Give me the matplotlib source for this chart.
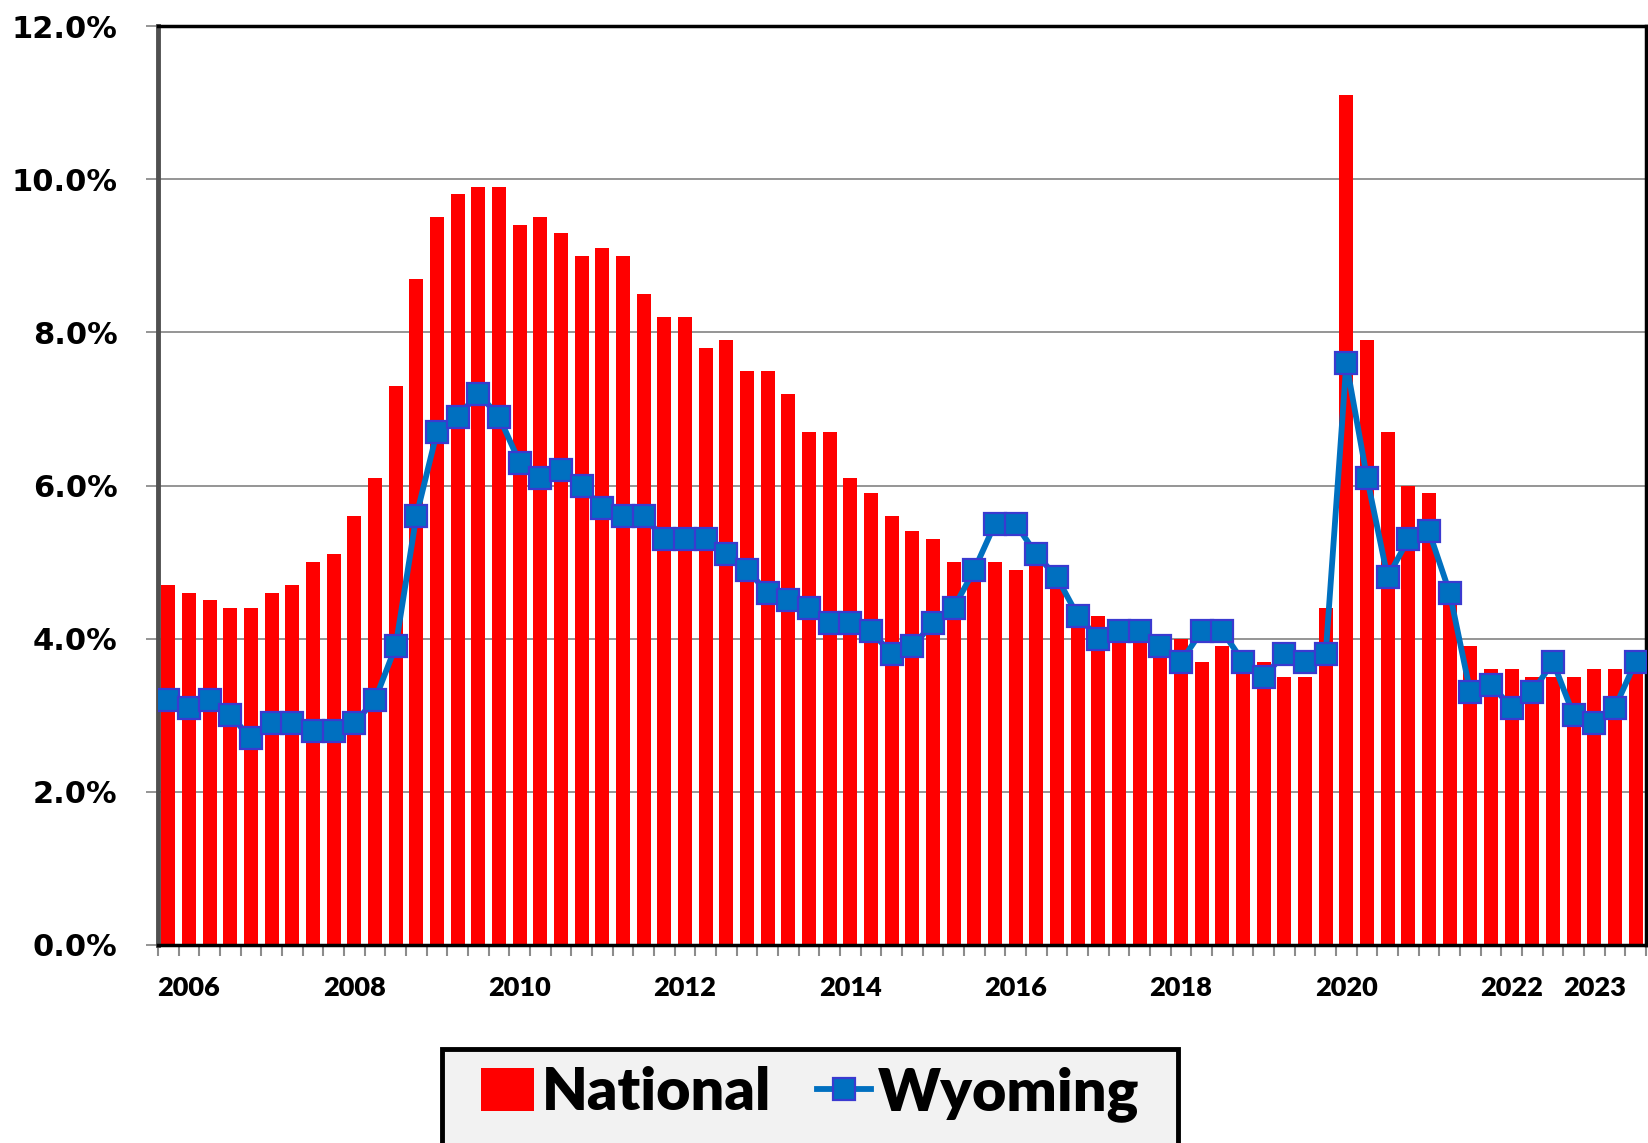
import matplotlib
matplotlib.use("Agg")
import matplotlib.pyplot as plt
import numpy as np
from matplotlib.patches import Patch, Rectangle
from matplotlib.lines import Line2D

# Quarterly data, 2006 Q1 .. 2023 Q4
years = list(range(2006, 2024))
quarters = [f"{y} Q{q}" for y in years for q in range(1, 5)]

national = [4.7, 4.6, 4.5, 4.4, 4.4, 4.6, 4.7, 5.0, 5.1, 5.6, 6.1, 7.3,
            8.7, 9.5, 9.8, 9.9, 9.9, 9.4, 9.5, 9.3, 9.0, 9.1, 9.0, 8.5,
            8.2, 8.2, 7.8, 7.9, 7.5, 7.5, 7.2, 6.7, 6.7, 6.1, 5.9, 5.6,
            5.4, 5.3, 5.0, 5.0, 5.0, 4.9, 5.0, 4.7, 4.4, 4.3, 4.2, 4.1,
            4.0, 4.0, 3.7, 3.9, 3.8, 3.7, 3.5, 3.5, 4.4, 11.1, 7.9, 6.7,
            6.0, 5.9, 4.7, 3.9, 3.6, 3.6, 3.5, 3.5, 3.5, 3.6, 3.6, 3.7]

wyoming = [3.2, 3.1, 3.2, 3.0, 2.7, 2.9, 2.9, 2.8, 2.8, 2.9, 3.2, 3.9,
           5.6, 6.7, 6.9, 7.2, 6.9, 6.3, 6.1, 6.2, 6.0, 5.7, 5.6, 5.6,
           5.3, 5.3, 5.3, 5.1, 4.9, 4.6, 4.5, 4.4, 4.2, 4.2, 4.1, 3.8,
           3.9, 4.2, 4.4, 4.9, 5.5, 5.5, 5.1, 4.8, 4.3, 4.0, 4.1, 4.1,
           3.9, 3.7, 4.1, 4.1, 3.7, 3.5, 3.8, 3.7, 3.8, 7.6, 6.1, 4.8,
           5.3, 5.4, 4.6, 3.3, 3.4, 3.1, 3.3, 3.7, 3.0, 2.9, 3.1, 3.7]

# labelled quarters on the x axis
label_quarters = ["2006 Q2", "2008 Q2", "2010 Q2", "2012 Q2", "2014 Q2",
                  "2016 Q2", "2018 Q2", "2020 Q2", "2022 Q2", "2023 Q2"]
label_texts = ["2006", "2008", "2010", "2012", "2014", "2016", "2018",
               "2020", "2022", "2023"]
y_ticks = [0, 2, 4, 6, 8, 10, 12]

x = np.arange(len(quarters))

W, H = 1649, 1143
fig = plt.figure(figsize=(W / 100, H / 100), dpi=100)
ax = fig.add_axes([158/W, 1 - 945/H, (1646-158)/W, (945-26)/H])

ax.bar(x, national, width=0.68, color="#FF0000", zorder=2)
ax.plot(x, wyoming, color="#0070C0", lw=4.2, marker="s", markersize=15.5,
        markerfacecolor="#0070C0", markeredgecolor="#3A3AD0",
        markeredgewidth=1.6, zorder=3)

ax.set_xlim(-0.5, len(quarters) - 0.5)
ax.set_ylim(0, 12)
ax.set_axisbelow(True)
ax.yaxis.grid(True, color="#8c8c8c", lw=1.3)
ax.set_yticks(y_ticks)
ax.set_yticklabels([f"{v:.1f}%" for v in y_ticks], fontsize=22,
                   fontweight="bold", family="DejaVu Sans")
ax.tick_params(axis="y", length=9, width=1.3, color="#8c8c8c", pad=20)

pos = [quarters.index(q) for q in label_quarters]
ax.set_xticks(pos)
ax.set_xticklabels(label_texts, fontsize=19.5, fontweight="heavy",
                   family=["Lato", "DejaVu Sans"])
ax.tick_params(axis="x", length=0, pad=22)
ax.set_xticks(np.arange(-0.5, len(quarters), 1.0), minor=True)
ax.tick_params(axis="x", which="minor", length=8, width=1.5, color="#8c8c8c")

ax.spines["left"].set_color("#505050")
ax.spines["left"].set_linewidth(3.5)
for s in ["top", "right", "bottom"]:
    ax.spines[s].set_color("black")
    ax.spines[s].set_linewidth(2.5)

# legend box
box = Rectangle((442/W, -0.02), (1178-442)/W, (H-1049)/H + 0.02,
                transform=fig.transFigure, facecolor="#f2f2f2",
                edgecolor="black", linewidth=3.5, zorder=1)
fig.add_artist(box)

handles = [Patch(facecolor="#FF0000", edgecolor="none"),
           Line2D([0], [0], color="#0070C0", lw=4.2, marker="s",
                  markersize=15.5, markerfacecolor="#0070C0",
                  markeredgecolor="#3A3AD0", markeredgewidth=1.6)]
leg = fig.legend(handles, ["National", "Wyoming"], loc="center",
                 bbox_to_anchor=(810/W, 1 - 1094/H), ncol=2, frameon=False,
                 handlelength=0.9, handleheight=0.75, handletextpad=0.12,
                 columnspacing=0.78, borderpad=0.0, borderaxespad=0.0,
                 prop={"family": ["Lato", "DejaVu Sans"],
                       "weight": "heavy", "size": 42.7})
leg.set_zorder(2)

fig.savefig("out.png", dpi=100)
